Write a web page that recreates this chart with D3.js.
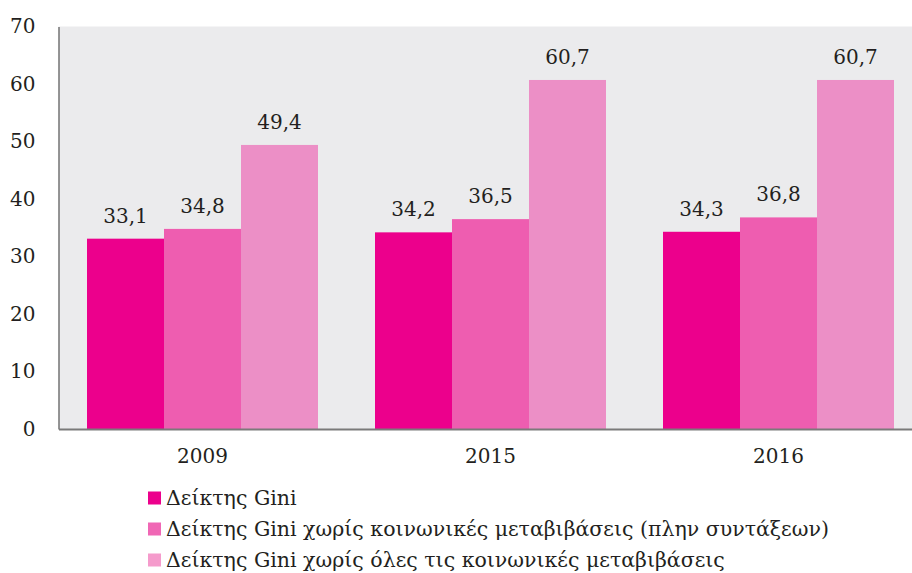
<!DOCTYPE html>
<html><head><meta charset="utf-8">
<script src="https://cdn.jsdelivr.net/npm/d3@7"></script>
<style>body{margin:0;background:#fff}svg{display:block}</style>
</head><body>
<svg id="c" width="912" height="573"></svg>
<script>
const years = ["2009", "2015", "2016"];
const seriesNames = [
  "Δείκτης Gini",
  "Δείκτης Gini χωρίς κοινωνικές μεταβιβάσεις (πλην συντάξεων)",
  "Δείκτης Gini χωρίς όλες τις κοινωνικές μεταβιβάσεις"
];
const giniValues = [33.1, 34.2, 34.3];
const noTransfersExclPensions = [34.8, 36.5, 36.8];
const noTransfersAll = [49.4, 60.7, 60.7];
const yTicks = [0, 10, 20, 30, 40, 50, 60, 70];
const barColors = ["#EC008C", "#EE5DB0", "#EC8FC6"];
const legendColors = ["#EC008C", "#F067B5", "#F59BCC"];

const series = [giniValues, noTransfersExclPensions, noTransfersAll];
const svg = d3.select("#c");
const m = {left: 58.5, top: 26.5, bottom: 429};
const plotW = 864;
const x0 = d3.scaleBand().domain(years).range([m.left, m.left + plotW]).paddingOuter(0).paddingInner(0);
const x1 = d3.scaleBand().domain(d3.range(3)).range([28.5, 288 - 28.5]);
const y = d3.scaleLinear().domain([0, 70]).range([m.bottom, m.top]);
const serif = "'DejaVu Serif', serif";
const txt = "#231F20";

svg.append("rect").attr("x", m.left).attr("y", m.top).attr("width", plotW).attr("height", m.bottom - m.top).attr("fill", "#EBEBED");

const g = svg.append("g");
years.forEach((yr, i) => {
  series.forEach((s, j) => {
    const v = s[i];
    const bx = x0(yr) + x1(j);
    g.append("rect").attr("x", bx).attr("y", y(v)).attr("width", x1.bandwidth()).attr("height", y(0) - y(v)).attr("fill", barColors[j]);
    g.append("text").attr("x", bx + x1.bandwidth() / 2).attr("y", y(v) - 16)
      .attr("text-anchor", "middle").attr("font-family", serif).attr("font-size", 20).attr("fill", txt)
      .text(String(v).replace(".", ","));
  });
});

// y axis
const ya = svg.append("g").attr("transform", `translate(${m.left},0)`)
  .call(d3.axisLeft(y).tickValues(yTicks).tickSize(0).tickPadding(23).tickFormat(d3.format("d")));
ya.select(".domain").attr("stroke", "#555").attr("stroke-width", 1.2);
ya.selectAll("text").attr("font-family", serif).attr("font-size", 20).attr("fill", txt);

// x axis
const xa = svg.append("g").attr("transform", `translate(0,${m.bottom})`)
  .call(d3.axisBottom(x0).tickSize(0).tickPadding(20));
xa.select(".domain").attr("stroke", "#7a7a7a").attr("stroke-width", 2);
xa.selectAll("text").attr("font-family", serif).attr("font-size", 20).attr("fill", txt);

// legend
const lg = svg.append("g");
seriesNames.forEach((n, i) => {
  const ly = 498 + i * 31;
  lg.append("rect").attr("x", 148).attr("y", ly - 6.5).attr("width", 13).attr("height", 13).attr("fill", legendColors[i]);
  lg.append("text").attr("x", 166).attr("y", ly + 7).attr("font-family", serif)
    .attr("font-size", 20.5).attr("fill", txt).text(n);
});
</script>
</body></html>
